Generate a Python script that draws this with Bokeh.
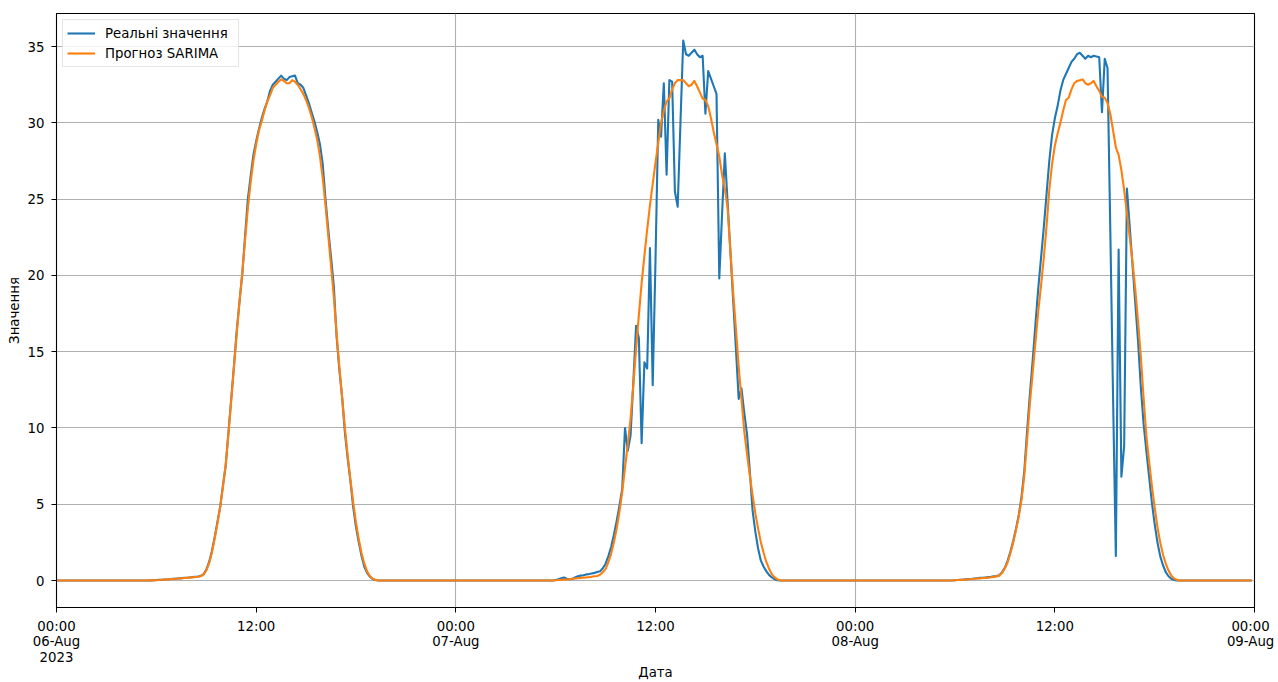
import pandas as pd
from bokeh.plotting import figure
from bokeh.models import Range1d, FixedTicker, Legend, LegendItem
from bokeh.embed import file_html
from bokeh.resources import INLINE

# ---------------- data (10-minute samples, one list per day) ----------------
day1_actual = [
    0, 0, 0, 0, 0, 0, 0, 0, 0, 0, 0, 0,
    0, 0, 0, 0, 0, 0, 0, 0, 0, 0, 0, 0,
    0, 0, 0, 0, 0, 0, 0, 0, 0, 0, 0.01, 0.02,
    0.03, 0.04, 0.05, 0.07, 0.08, 0.1, 0.11, 0.12, 0.14, 0.15, 0.17, 0.18,
    0.2, 0.22, 0.24, 0.26, 0.3, 0.4, 0.7, 1.2, 1.9, 2.8, 3.8, 4.8,
    6.2, 7.5, 9.7, 11.9, 14.1, 16.4, 18.3, 20.1, 22.6, 25.0, 26.5, 27.9,
    28.8, 29.6, 30.3, 30.9, 31.4, 32.1, 32.5, 32.7, 32.9, 33.1, 32.9, 32.8,
    33.0, 33.05, 33.1, 32.6, 32.5, 32.3, 31.8, 31.3, 30.7, 30.1, 29.4, 28.6,
    27.3, 25.0, 23.0, 21.2, 19.3, 16.0, 13.8, 12.0, 9.7, 8.0, 6.5, 4.8,
    3.5, 2.5, 1.6, 0.9, 0.5, 0.25, 0.1, 0.03, 0, 0, 0, 0,
    0, 0, 0, 0, 0, 0, 0, 0, 0, 0, 0, 0,
    0, 0, 0, 0, 0, 0, 0, 0, 0, 0, 0, 0,
]
day2_actual = [
    0, 0, 0, 0, 0, 0, 0, 0, 0, 0, 0, 0,
    0, 0, 0, 0, 0, 0, 0, 0, 0, 0, 0, 0,
    0, 0, 0, 0, 0, 0, 0, 0, 0, 0, 0, 0,
    0.03, 0.08, 0.15, 0.2, 0.12, 0.08, 0.1, 0.2, 0.28, 0.32, 0.35, 0.4,
    0.42, 0.46, 0.5, 0.55, 0.6, 0.8, 1.1, 1.6, 2.2, 3.0, 3.9, 4.9,
    6.0, 10.0, 8.5, 9.5, 13.0, 16.7, 15.9, 9.0, 14.3, 13.9, 21.8, 12.8,
    21.0, 30.2, 29.1, 32.6, 26.6, 32.8, 32.7, 25.5, 24.5, 30.0, 35.4, 34.5,
    34.4, 34.6, 34.8, 34.5, 34.3, 34.4, 30.6, 33.4, 32.9, 32.4, 31.9, 19.8,
    24.0, 28.0, 24.8, 21.6, 18.4, 15.2, 11.9, 12.6, 11.0, 9.6, 7.2, 4.6,
    3.2, 2.1, 1.3, 0.9, 0.6, 0.35, 0.2, 0.08, 0.02, 0, 0, 0,
    0, 0, 0, 0, 0, 0, 0, 0, 0, 0, 0, 0,
    0, 0, 0, 0, 0, 0, 0, 0, 0, 0, 0, 0,
]
day3_actual = [
    0, 0, 0, 0, 0, 0, 0, 0, 0, 0, 0, 0,
    0, 0, 0, 0, 0, 0, 0, 0, 0, 0, 0, 0,
    0, 0, 0, 0, 0, 0, 0, 0, 0, 0, 0, 0,
    0.02, 0.03, 0.05, 0.06, 0.08, 0.1, 0.11, 0.13, 0.15, 0.17, 0.18, 0.2,
    0.22, 0.24, 0.27, 0.3, 0.35, 0.55, 0.85, 1.3, 1.9, 2.6, 3.4, 4.3,
    5.5, 7.2, 9.8, 12.2, 14.4, 16.8, 19.1, 21.1, 23.1, 25.3, 27.5, 29.2,
    30.3, 31.1, 32.1, 32.8, 33.2, 33.6, 34.0, 34.2, 34.5, 34.6, 34.4, 34.2,
    34.4, 34.3, 34.4, 34.35, 34.3, 30.7, 34.2, 33.6, 23.0, 12.0, 1.6, 21.7,
    6.8, 8.8, 25.7, 23.2, 20.7, 18.2, 15.7, 12.7, 10.3, 8.5, 6.8, 5.1,
    3.7, 2.5, 1.6, 1.0, 0.55, 0.28, 0.12, 0.04, 0, 0, 0, 0,
    0, 0, 0, 0, 0, 0, 0, 0, 0, 0, 0, 0,
    0, 0, 0, 0, 0, 0, 0, 0, 0, 0, 0, 0,
]

day1_forecast = [
    0, 0, 0, 0, 0, 0, 0, 0, 0, 0, 0, 0,
    0, 0, 0, 0, 0, 0, 0, 0, 0, 0, 0, 0,
    0, 0, 0, 0, 0, 0, 0, 0, 0, 0, 0.01, 0.01,
    0.02, 0.03, 0.05, 0.06, 0.07, 0.09, 0.1, 0.11, 0.13, 0.14, 0.16, 0.17,
    0.19, 0.21, 0.23, 0.25, 0.28, 0.38, 0.65, 1.1, 1.8, 2.7, 3.7, 4.8,
    6.1, 7.6, 9.6, 11.8, 14.0, 16.2, 18.3, 20.2, 22.3, 24.4, 26.1, 27.5,
    28.6, 29.5, 30.1, 30.8, 31.4, 31.8, 32.3, 32.5, 32.7, 32.85, 32.75, 32.6,
    32.6, 32.8, 32.7, 32.5, 32.2, 31.9, 31.5, 31.0, 30.4, 29.7, 28.9, 27.8,
    26.4, 24.6, 22.6, 20.6, 18.6, 16.2, 14.0, 12.0, 10.0, 8.2, 6.6, 5.1,
    3.8, 2.7, 1.8, 1.1, 0.6, 0.3, 0.12, 0.04, 0, 0, 0, 0,
    0, 0, 0, 0, 0, 0, 0, 0, 0, 0, 0, 0,
    0, 0, 0, 0, 0, 0, 0, 0, 0, 0, 0, 0,
]
day2_forecast = [
    0, 0, 0, 0, 0, 0, 0, 0, 0, 0, 0, 0,
    0, 0, 0, 0, 0, 0, 0, 0, 0, 0, 0, 0,
    0, 0, 0, 0, 0, 0, 0, 0, 0, 0, 0, 0,
    0.02, 0.03, 0.05, 0.06, 0.07, 0.09, 0.11, 0.13, 0.15, 0.17, 0.19, 0.2,
    0.22, 0.25, 0.28, 0.3, 0.38, 0.55, 0.75, 1.2, 1.75, 2.5, 3.4, 4.5,
    5.8, 7.4, 8.9, 10.6, 12.8, 15.2, 17.4, 19.5, 21.3, 23.0, 24.6, 26.0,
    27.4, 28.7, 30.0, 30.8, 31.4, 31.6, 32.2, 32.6, 32.8, 32.8, 32.8, 32.6,
    32.4, 32.5, 32.75, 32.4, 32.0, 31.6, 31.5, 31.1, 30.3, 29.4, 28.6, 27.8,
    26.6, 25.7, 24.4, 21.6, 18.9, 16.5, 14.0, 11.9, 9.8, 8.3, 6.9, 5.6,
    4.4, 3.4, 2.5, 1.8, 1.2, 0.75, 0.4, 0.2, 0.07, 0.01, 0, 0,
    0, 0, 0, 0, 0, 0, 0, 0, 0, 0, 0, 0,
    0, 0, 0, 0, 0, 0, 0, 0, 0, 0, 0, 0,
]
day3_forecast = [
    0, 0, 0, 0, 0, 0, 0, 0, 0, 0, 0, 0,
    0, 0, 0, 0, 0, 0, 0, 0, 0, 0, 0, 0,
    0, 0, 0, 0, 0, 0, 0, 0, 0, 0, 0, 0,
    0.02, 0.03, 0.04, 0.05, 0.07, 0.08, 0.1, 0.11, 0.13, 0.14, 0.16, 0.17,
    0.19, 0.21, 0.24, 0.27, 0.32, 0.5, 0.8, 1.2, 1.8, 2.5, 3.3, 4.2,
    5.3, 6.9, 9.2, 11.6, 13.6, 15.6, 17.6, 19.3, 21.1, 23.2, 25.6, 27.3,
    28.5, 29.3, 30.0, 30.8, 31.5, 31.65, 32.2, 32.6, 32.75, 32.8, 32.85, 32.6,
    32.5, 32.6, 32.75, 32.4, 32.1, 31.7, 31.65, 31.3, 30.6, 29.5, 28.4, 27.9,
    26.9, 25.6, 24.1, 22.5, 20.9, 19.1, 17.0, 14.7, 12.0, 9.5, 7.8, 6.2,
    4.8, 3.5, 2.5, 1.7, 1.1, 0.65, 0.32, 0.13, 0.04, 0, 0, 0,
    0, 0, 0, 0, 0, 0, 0, 0, 0, 0, 0, 0,
    0, 0, 0, 0, 0, 0, 0, 0, 0, 0, 0, 0,
]

series_names = ["Реальні значення", "Прогноз SARIMA"]
start_time = "2023-08-06 00:00"
end_time = "2023-08-09 00:00"
tick_times = ["2023-08-06 00:00", "2023-08-06 12:00", "2023-08-07 00:00",
              "2023-08-07 12:00", "2023-08-08 00:00", "2023-08-08 12:00",
              "2023-08-09 00:00"]
tick_labels = ["00:00\n06-Aug\n2023", "12:00", "00:00\n07-Aug", "12:00",
               "00:00\n08-Aug", "12:00", "00:00\n09-Aug"]
grid_times = ["2023-08-06 00:00", "2023-08-07 00:00", "2023-08-08 00:00",
              "2023-08-09 00:00"]
y_ticks = [0, 5, 10, 15, 20, 25, 30, 35]
x_label = "Дата"
y_label = "Значення"

# ---------------- build ----------------
actual = day1_actual + day2_actual + day3_actual
forecast = day1_forecast + day2_forecast + day3_forecast
times = pd.date_range(start_time, periods=len(actual), freq="10min")


def ms(t):
    return int(pd.Timestamp(t).value // 10**6)


FONT = "DejaVu Sans"
FS = "13.3px"

p = figure(width=1278, height=682, x_axis_type="datetime",
           x_range=Range1d(ms(start_time), ms(end_time)),
           y_range=Range1d(-1.77, 37.17),
           output_backend="svg", toolbar_location=None,
           min_border_left=56, min_border_right=24,
           min_border_top=13, min_border_bottom=74)

p.background_fill_color = "white"
p.border_fill_color = "white"
p.outline_line_color = "black"
p.outline_line_width = 1.1
p.outline_line_alpha = 1.0

r_act = p.line(times, actual, line_color="#1f77b4", line_width=2.1, line_join="round")
r_fc = p.line(times, forecast, line_color="#ff7f0e", line_width=2.1, line_join="round")

# x axis
tick_ms = [ms(t) for t in tick_times]
overrides = {}
for i, (t, lab) in enumerate(zip(tick_ms, tick_labels)):
    if i == len(tick_ms) - 1:
        # keep the right-most label inside the canvas
        lab = "\n".join(line + "\u00a0" for line in lab.split("\n"))
    overrides[t] = lab
xa = p.xaxis[0]
xa.ticker = FixedTicker(ticks=tick_ms, minor_ticks=[])
xa.major_label_overrides = overrides
xa.major_label_text_font = FONT
xa.major_label_text_font_size = FS
xa.major_label_text_color = "black"
xa.major_label_text_line_height = 1.04
xa.major_label_standoff = 6
xa.major_tick_out = 5
xa.major_tick_in = 0
xa.minor_tick_line_color = None
xa.major_tick_line_color = "black"
xa.axis_line_color = "black"
xa.axis_label = x_label
xa.axis_label_text_font = FONT
xa.axis_label_text_font_size = FS
xa.axis_label_text_font_style = "normal"
xa.axis_label_text_color = "black"
xa.axis_label_standoff = -3

# y axis
ya = p.yaxis[0]
ya.ticker = FixedTicker(ticks=y_ticks, minor_ticks=[])
ya.major_label_text_font = FONT
ya.major_label_text_font_size = FS
ya.major_label_text_color = "black"
ya.major_label_standoff = 7
ya.major_tick_out = 5
ya.major_tick_in = 0
ya.minor_tick_line_color = None
ya.major_tick_line_color = "black"
ya.axis_line_color = "black"
ya.axis_label = y_label
ya.axis_label_text_font = FONT
ya.axis_label_text_font_size = FS
ya.axis_label_text_font_style = "normal"
ya.axis_label_text_color = "black"
ya.axis_label_standoff = 3

# grids
p.xgrid.ticker = FixedTicker(ticks=[ms(t) for t in grid_times], minor_ticks=[])
p.xgrid.grid_line_color = "#b0b0b0"
p.xgrid.grid_line_width = 1.1
p.ygrid.ticker = FixedTicker(ticks=y_ticks, minor_ticks=[])
p.ygrid.grid_line_color = "#b0b0b0"
p.ygrid.grid_line_width = 1.1

# legend
legend = Legend(items=[LegendItem(label=series_names[0], renderers=[r_act]),
                       LegendItem(label=series_names[1], renderers=[r_fc])],
                location="top_left")
legend.margin = 6
legend.padding = 4
legend.spacing = 2
legend.label_height = 18
legend.glyph_height = 18
legend.glyph_width = 28
legend.label_width = 129
legend.label_standoff = 10
legend.label_text_font = FONT
legend.label_text_font_size = FS
legend.label_text_color = "black"
legend.border_line_color = "#cccccc"
legend.border_line_width = 1
legend.background_fill_color = "white"
legend.background_fill_alpha = 0.8
p.add_layout(legend)

open("out.html", "w").write(file_html(p, INLINE))
